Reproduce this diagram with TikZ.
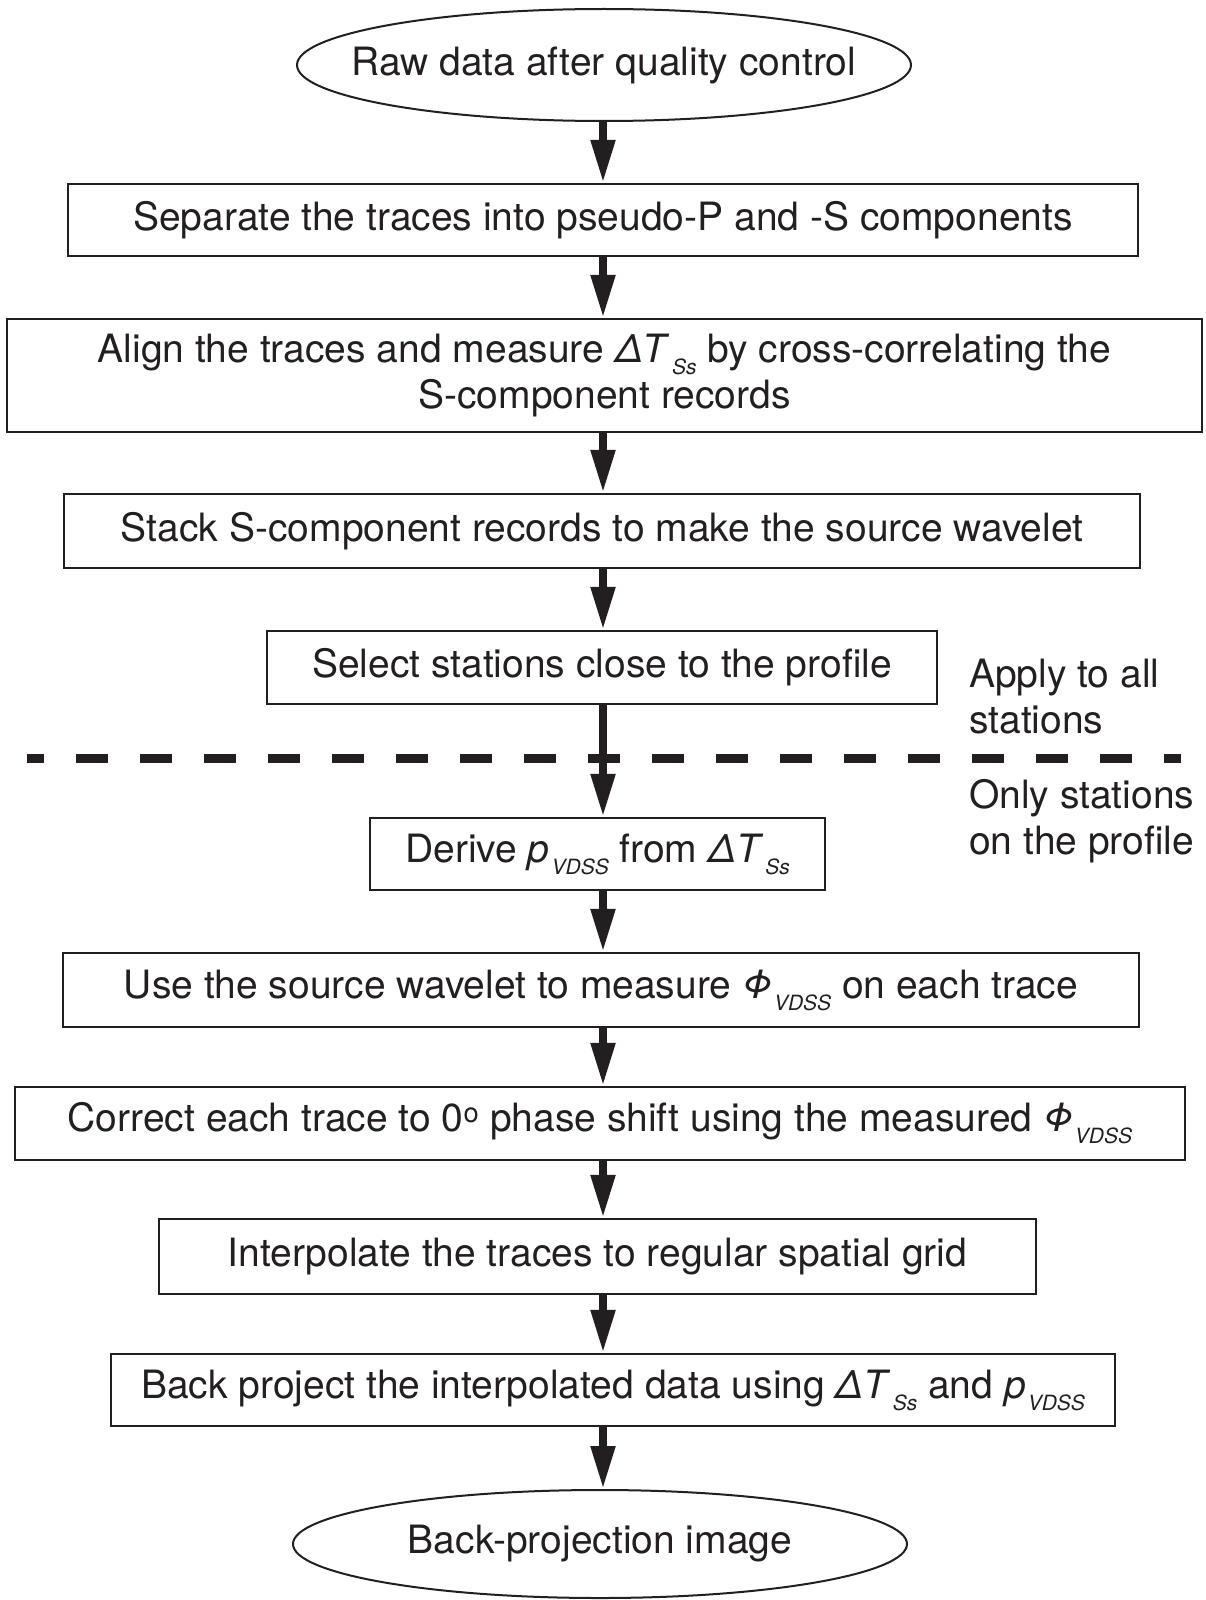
\documentclass[tikz,border=0pt]{standalone}
\usepackage{fontspec}
\setmainfont{TeX Gyre Heros}
\usetikzlibrary{arrows.meta,shapes.geometric}
\definecolor{ink}{RGB}{35,31,32}
% italic subscript, set small and dropped below the baseline
\newcommand\subx[1]{\kern2pt\raisebox{-12pt}{\fontsize{21}{21}\selectfont\itshape #1}}
\newcommand\dTss{\textit{ΔT}\subx{Ss}}
\newcommand\pvdss{\textit{p}\subx{VDSS}}
\newcommand\phivdss{\textit{Φ}\subx{VDSS}}
% zero-width text so the ellipse keeps its given size
\newcommand\zwtext[1]{\makebox[0pt]{#1}}

\begin{document}
\begin{tikzpicture}[x=1pt,y=-1pt,
  every node/.style={font=\fontsize{39}{46}\selectfont, text=ink},
  stepbox/.style={draw=ink, line width=2.2pt, inner sep=0pt, align=center},
  term/.style={draw=ink, ellipse, line width=2pt, inner sep=0pt},
  note/.style={anchor=west, align=left, inner sep=0pt},
  flow/.style={draw=ink, line width=8pt, -{Triangle[length=43pt,width=23pt]}},
  divider/.style={draw=ink, line width=9pt, dash pattern=on 32pt off 32pt, dash phase=15pt}
]
\useasboundingbox (0,0) rectangle (1205,1600);
\coordinate (axis) at (603,0);

% flow steps
\node[term, minimum width=614, minimum height=112] (start) at (604,65) {\zwtext{Raw data after quality control}};
\node[stepbox, minimum width=1070, minimum height=72] (s1) at (603,220) {Separate the traces into pseudo-P and -S components};
\node[stepbox, minimum width=1195, minimum height=113] (s2) at (604.5,375.5) {Align the traces and measure \dTss{} by cross-correlating the\\S-component records};
\node[stepbox, minimum width=1076, minimum height=74] (s3) at (602,531) {Stack S-component records to make the source wavelet};
\node[stepbox, minimum width=670, minimum height=73] (s4) at (602,667.5) {Select stations close to the profile};
\node[stepbox, minimum width=455, minimum height=72] (s5) at (597.5,854) {Derive \pvdss{} from \dTss};
\node[stepbox, minimum width=1076, minimum height=74] (s6) at (601,990) {Use the source wavelet to measure \phivdss{} on each trace};
\node[stepbox, minimum width=1170, minimum height=73] (s7) at (600,1123.5) {Correct each trace to 0\textsuperscript{o} phase shift using the measured \phivdss};
\node[stepbox, minimum width=877, minimum height=75] (s8) at (597.5,1256.5) {Interpolate the traces to regular spatial grid};
\node[stepbox, minimum width=1004, minimum height=72] (s9) at (613,1390) {Back project the interpolated data using \dTss{} and \pvdss};
\node[term, minimum width=614, minimum height=108] (stop) at (600,1544) {\zwtext{Back-projection image}};

% side notes and the divider between the two station groups
\node[note] (allst) at (969,697) {Apply to all\\stations};
\node[note] (profst) at (969,821) {Only stations\\on the profile};
\coordinate (divL) at (27,758);
\coordinate (divR) at (1181,758);
\draw[divider] (divL) -- (divR);

% connectors
\draw[flow] (start.south -| axis) -- (s1.north -| axis);
\draw[flow] (s1.south -| axis) -- (s2.north -| axis);
\draw[flow] (s2.south -| axis) -- (s3.north -| axis);
\draw[flow] (s3.south -| axis) -- (s4.north -| axis);
\draw[flow] (s4.south -| axis) -- (s5.north -| axis);
\draw[flow] (s5.south -| axis) -- (s6.north -| axis);
\draw[flow] (s6.south -| axis) -- (s7.north -| axis);
\draw[flow] (s7.south -| axis) -- (s8.north -| axis);
\draw[flow] (s8.south -| axis) -- (s9.north -| axis);
\draw[flow] (s9.south -| axis) -- (stop.north -| axis);
\end{tikzpicture}
\end{document}
